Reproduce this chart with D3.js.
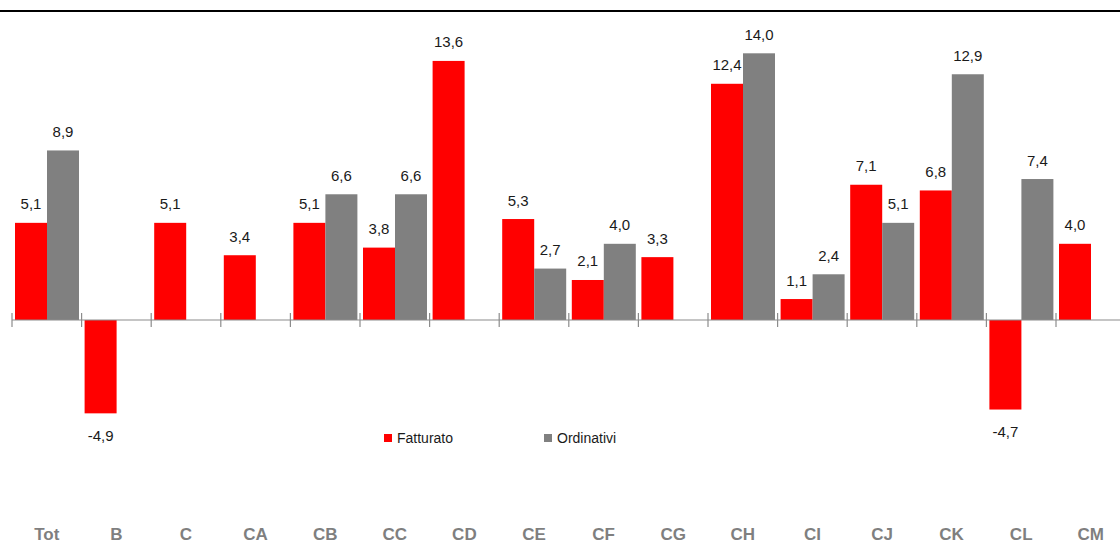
<!DOCTYPE html>
<html>
<head>
<meta charset="utf-8">
<script src="https://cdn.jsdelivr.net/npm/d3@7/dist/d3.min.js"></script>
<style>
  html, body { margin: 0; padding: 0; background: #fff; }
  svg { display: block; font-family: "Liberation Sans", Arial, sans-serif; }
</style>
</head>
<body>
<svg id="chart" width="1120" height="545"></svg>
<script>
const categories = ["Tot","B","C","CA","CB","CC","CD","CE","CF","CG","CH","CI","CJ","CK","CL","CM"];
const fatturato  = [5.1, -4.9, 5.1, 3.4, 5.1, 3.8, 13.6, 5.3, 2.1, 3.3, 12.4, 1.1, 7.1, 6.8, -4.7, 4.0];
const ordinativi = [8.9, null, null, null, 6.6, 6.6, null, 2.7, 4.0, null, 14.0, 2.4, 5.1, 12.9, 7.4, null];
const seriesNames = ["Fatturato", "Ordinativi"];
const seriesColors = ["#ff0000", "#808080"];

const svg = d3.select("#chart");

// top rule
svg.append("line").attr("x1", 0).attr("x2", 1120).attr("y1", 11).attr("y2", 11)
  .attr("stroke", "#000").attr("stroke-width", 2);

const step = 69.6;
const x = d3.scaleBand().domain(categories).range([12, 12 + step * categories.length]).padding(0);
const xs = d3.scaleBand().domain(seriesNames).range([3, step - 2.6]).padding(0);
const y = d3.scaleLinear().domain([-5, 14]).range([320 + 5 * 19.05, 320 - 14 * 19.05]);

const series = [fatturato, ordinativi];
const fmt = v => d3.format(".1f")(v).replace(".", ",").replace("−", "-");

series.forEach((vals, si) => {
  const name = seriesNames[si];
  const data = categories.map((c, i) => ({ c, v: vals[i] })).filter(d => d.v !== null);
  const g = svg.append("g");
  g.selectAll("rect").data(data).join("rect")
    .attr("x", d => x(d.c) + xs(name))
    .attr("width", xs.bandwidth())
    .attr("y", d => y(Math.max(0, d.v)))
    .attr("height", d => Math.abs(y(d.v) - y(0)))
    .attr("fill", seriesColors[si]);
  g.selectAll("text").data(data).join("text")
    .attr("x", d => x(d.c) + xs(name) + xs.bandwidth() / 2)
    .attr("y", d => d.v >= 0 ? y(d.v) - 13.5 : y(d.v) + 27.5)
    .attr("text-anchor", "middle")
    .attr("font-size", 15)
    .attr("fill", "#1a1a1a")
    .text(d => fmt(d.v));
});

// axis line + boundary ticks
const axisY = y(0);
svg.append("line").attr("x1", x.range()[0]).attr("x2", x.range()[1])
  .attr("y1", axisY).attr("y2", axisY).attr("stroke", "#8c8c8c").attr("stroke-width", 1.2);
const bounds = categories.map(c => x(c)).concat([x.range()[1]]);
svg.selectAll("line.tick").data(bounds).join("line").attr("class", "tick")
  .attr("x1", d => d).attr("x2", d => d)
  .attr("y1", axisY - 7).attr("y2", axisY + 7)
  .attr("stroke", "#8c8c8c").attr("stroke-width", 1.2);

// category labels
svg.selectAll("text.cat").data(categories).join("text").attr("class", "cat")
  .attr("x", d => x(d) + x.bandwidth() / 2)
  .attr("y", 540)
  .attr("text-anchor", "middle")
  .attr("font-size", 17)
  .attr("font-weight", "bold")
  .attr("fill", "#7f7f7f")
  .text(d => d);

// legend
const legendX = [384, 544];
seriesNames.forEach((n, i) => {
  svg.append("rect").attr("x", legendX[i]).attr("y", 434).attr("width", 8).attr("height", 8)
    .attr("fill", seriesColors[i]);
  svg.append("text").attr("x", legendX[i] + 13).attr("y", 443)
    .attr("font-size", 14).attr("fill", "#1a1a1a").text(n);
});
</script>
</body>
</html>
